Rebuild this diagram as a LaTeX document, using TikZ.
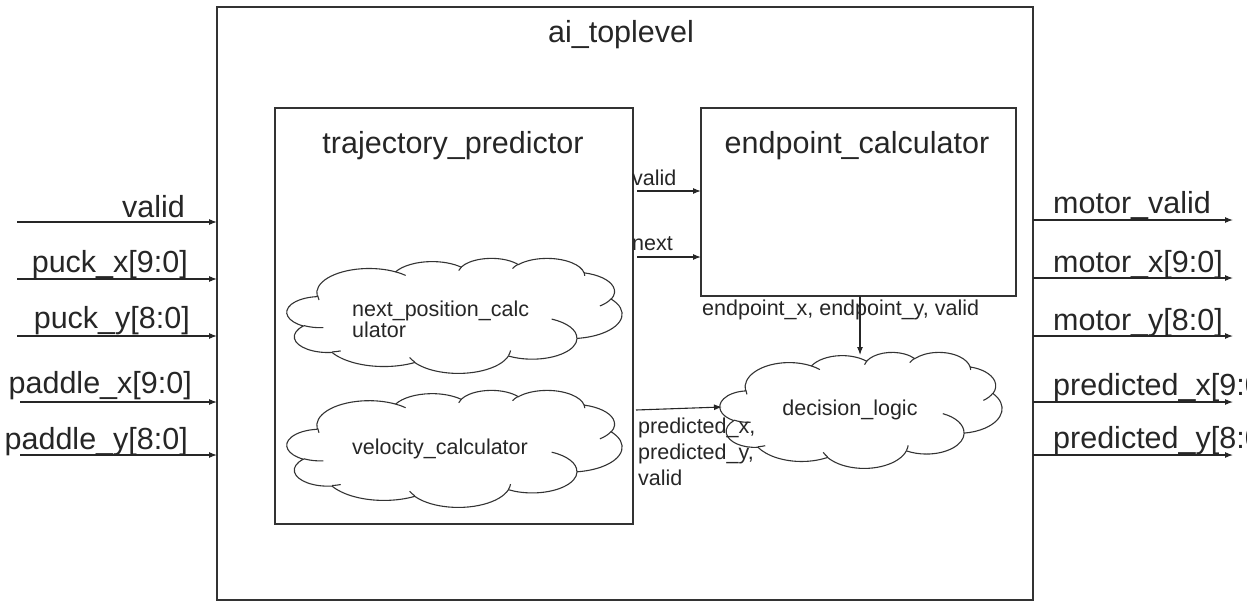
\documentclass[tikz,border=0pt]{standalone}
\usepackage{fontspec}
\setmainfont{Liberation Sans}
\usetikzlibrary{arrows.meta}

% Cloud outline made of elliptical arcs, given in a 432 x 432 frame and
% stretched to the width \cw and height \ch of the cloud's region node.
\newcommand\cp[2]{({#1/432*\cw},{#2/432*\ch})}
\newcommand\ooarc[4]{arc[x radius={#1/432*\cw*1pt}, y radius={#2/432*\ch*1pt},
  start angle={-pa(#1,#2,#3)}, delta angle={-(#4+cr(#1,#2,#3+#4)-cr(#1,#2,#3))}]}
\newcommand\cloudoutline[3]{%
  \begin{scope}[shift={(#1.north west)}]
    \def\cw{#2}\def\ch{#3}
    \draw[cloudline] \cp{39.00}{143.70}
      \ooarc{67.53}{91.90}{-190.4875}{123.7805}
      \ooarc{53.33}{72.67}{-144.1024}{89.9452}
      \ooarc{43.65}{59.45}{-145.8079}{99.7230}
      \ooarc{48.57}{65.95}{-130.9861}{117.2417}
      \ooarc{53.33}{72.73}{-78.7089}{109.0269}
      \ooarc{67.75}{92.20}{-46.2673}{130.2690}
      \ooarc{57.85}{78.67}{0.6250}{114.0333}
      \ooarc{67.52}{92.15}{22.4516}{115.1726}
      \ooarc{77.20}{105.43}{66.2426}{75.7110}
      \ooarc{43.60}{59.18}{-274.9421}{146.7356}
      \ooarc{43.45}{59.45}{-246.8285}{152.5189}
      -- cycle;
    \draw[cloudline]
      \cp{46.93}{261.77} \ooarc{43.45}{59.45}{86.7420}{26.4295}
      \cp{69.28}{348.99} \ooarc{43.60}{59.18}{73.6105}{11.4475}
      \cp{164.78}{390.90} \ooarc{67.52}{92.15}{137.6242}{14.0811}
      \cp{288.27}{347.51} \ooarc{67.52}{92.15}{6.4533}{15.9984}
      \cp{341.29}{229.54} \ooarc{57.85}{78.67}{-70.2924}{70.9174}
      \cp{417.98}{153.54} \ooarc{53.33}{72.73}{30.3180}{27.7515}
      \cp{383.24}{54.26} \ooarc{48.57}{65.95}{-13.7443}{14.8589}
      \cp{290.78}{39.52} \ooarc{48.57}{65.95}{-149.1815}{18.1954}
      \cp{221.41}{47.20} \ooarc{43.65}{59.45}{-163.4943}{17.6864}
      \cp{140.00}{51.92} \ooarc{67.53}{91.90}{-66.7070}{12.3194}
      \cp{41.27}{157.89} \ooarc{67.53}{91.90}{162.0463}{14.3711};
  \end{scope}}

\begin{document}
\begin{tikzpicture}[x=1pt, y=-1pt,
  declare function={
    pa(\a,\b,\t)=atan2(\a*sin(\t),\b*cos(\t));
    cr(\a,\b,\t)=mod(pa(\a,\b,\t)-\t+900,360)-180;
  },
  ink/.style={black!85},
  box/.style={draw=black!80, line width=1.3pt, inner sep=0pt, outer sep=0pt},
  region/.style={inner sep=0pt, outer sep=0pt},
  cloudline/.style={draw=black!80, line width=1.1pt},
  bigtext/.style={ink, font=\fontsize{30.5}{34}\selectfont, inner sep=0pt},
  smalltext/.style={ink, font=\fontsize{21.5}{20.5}\selectfont, inner sep=0pt},
  sig/.style={draw=black!85, line width=1.1pt, -{Latex[length=8pt,width=6pt]}}]

\useasboundingbox (0,0) rectangle (1247,602);
\clip (0,0) rectangle (1247,602);

% top-level block
\node[box, minimum width=816, minimum height=593] (top) at (625,303.5) {};
\node[bigtext, anchor=base] (toplbl) at (621,43) {ai\_toplevel};

% sub-blocks
\node[box, minimum width=358, minimum height=416] (tp) at (454,316) {};
\node[bigtext, anchor=base] (tplbl) at (453,153) {trajectory\_predictor};
\node[box, minimum width=315, minimum height=188] (ep) at (858.5,202) {};
\node[bigtext, anchor=base] (eplbl) at (857,153) {endpoint\_calculator};

% clouds
\node[region, minimum width=335, minimum height=115] (np) at (454.5,315.5) {};
\cloudoutline{np}{335}{115}
\node[smalltext, align=left, anchor=base west] (nplbl) at (352,337) {next\_position\_calc\\ulator};

\node[region, minimum width=335, minimum height=117] (vc) at (454.5,448.5) {};
\cloudoutline{vc}{335}{117}
\node[smalltext, anchor=base west] (vclbl) at (352,454) {velocity\_calculator};

\node[region, minimum width=282, minimum height=116] (dl) at (861,410) {};
\cloudoutline{dl}{282}{116}
\node[smalltext, anchor=base] (dllbl) at (850,415) {decision\_logic};

% trajectory_predictor -> endpoint_calculator
\coordinate (v0) at (637,191);
\draw[sig] (v0) -- (v0 -| ep.west);
\node[smalltext, anchor=base west] (v0lbl) at (632,185) {valid};
\coordinate (n0) at (637,257);
\draw[sig] (n0) -- (n0 -| ep.west);
\node[smalltext, anchor=base west] (n0lbl) at (632,250) {next};

% endpoint_calculator -> decision_logic
\coordinate (e1) at (860,355);
\draw[sig] (e1 |- ep.south) -- (e1);
\node[smalltext, anchor=base west] (e1lbl) at (702,315) {endpoint\_x, endpoint\_y, valid};

% trajectory_predictor -> decision_logic
\coordinate (p0) at (636,410);
\coordinate (p1) at (722,407);
\draw[sig] (p0) -- (p1);
\node[smalltext, align=left, anchor=base west, font=\fontsize{21.5}{26}\selectfont] (p0lbl) at (638,485) {predicted\_x,\\predicted\_y,\\valid};

% inputs
\foreach \y/\xs/\xe/\yb/\name/\txt in {
    222/17/185/217/inA/valid,
    279/17/188/272/inB/puck\_x[9:0],
    336/17/190/328/inC/puck\_y[8:0],
    402/20/192/393/inD/paddle\_x[9:0],
    455/20/188/449/inE/paddle\_y[8:0]} {
  \coordinate (\name) at (\xs,\y);
  \draw[sig] (\name) -- (\name -| top.west);
  \node[bigtext, anchor=base east] (\name lbl) at (\xe,\yb) {\txt};
}

% outputs
\foreach \y/\yb/\name/\txt in {
    220/213/outA/motor\_valid,
    278/272/outB/motor\_x[9:0],
    336/330/outC/motor\_y[8:0],
    402/395/outD/predicted\_x[9:0],
    455/448/outE/predicted\_y[8:0]} {
  \coordinate (\name) at (1233,\y);
  \draw[sig] (\name -| top.east) -- (\name);
  \node[bigtext, anchor=base west] (\name lbl) at (1053,\yb) {\txt};
}
\end{tikzpicture}
\end{document}
